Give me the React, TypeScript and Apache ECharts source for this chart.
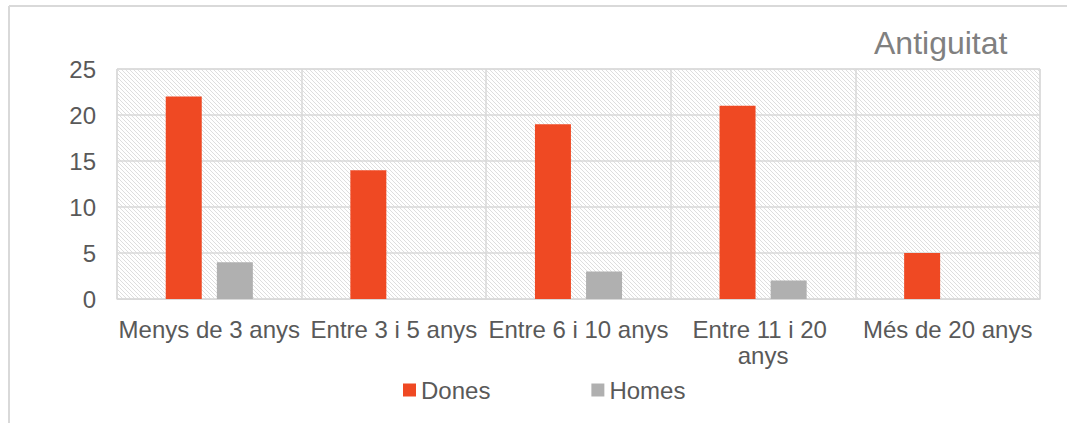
import React, { useEffect, useRef } from "react";
import * as echarts from "echarts";

const categories = ["Menys de 3 anys", "Entre 3 i 5 anys", "Entre 6 i 10 anys", "Entre 11 i 20 anys", "Més de 20 anys"];
const dones = [22, 14, 19, 21, 5];
const homes = [4, 0, 3, 2, 0];
const yTicks = { min: 0, max: 25, interval: 5 };
const titleText = "Antiguitat";

function makeHatch(): HTMLCanvasElement {
  const c = document.createElement("canvas");
  c.width = 8;
  c.height = 8;
  const ctx = c.getContext("2d")!;
  ctx.fillStyle = "#ffffff";
  ctx.fillRect(0, 0, 8, 8);
  ctx.fillStyle = "#dedede";
  for (let y = 0; y < 8; y++) {
    ctx.fillRect(y % 8, y, 1, 1);
    ctx.fillRect((y + 4) % 8, y, 1, 1);
  }
  return c;
}

export default function App() {
  const ref = useRef<HTMLDivElement>(null);
  useEffect(() => {
    if (!ref.current) return;
    const chart = echarts.init(ref.current, undefined, { renderer: "svg" });
    const font = "'Liberation Sans', Arial, sans-serif";
    const textColor = "#595959";
    chart.setOption({
      animation: false,
      title: {
        text: titleText,
        left: 874,
        top: 27,
        padding: 0,
        textStyle: { fontFamily: font, fontSize: 32, fontWeight: "normal", color: "#808080" },
      },
      legend: {
        left: 403,
        top: 378,
        padding: 0,
        itemWidth: 13,
        itemHeight: 13,
        itemGap: 101,
        icon: "rect",
        textStyle: { fontFamily: font, fontSize: 24, color: textColor, padding: [0, 0, 0, 0] },
        data: ["Dones", "Homes"],
      },
      grid: {
        left: 117,
        top: 69,
        right: 27,
        bottom: 124,
        show: true,
        borderColor: "#d9d9d9",
        borderWidth: 1,
        backgroundColor: { image: makeHatch(), repeat: "repeat" },
      },
      graphic: [
        { type: "line", shape: { x1: 9, y1: 6, x2: 1067, y2: 6 }, style: { stroke: "#d9d9d9", lineWidth: 2 } },
        { type: "line", shape: { x1: 9, y1: 6, x2: 9, y2: 423 }, style: { stroke: "#d9d9d9", lineWidth: 2 } },
      ],
      xAxis: {
        type: "category",
        data: categories,
        axisLine: { show: true, lineStyle: { color: "#d9d9d9", width: 1 } },
        axisTick: { show: false },
        splitLine: { show: true, interval: 0, lineStyle: { color: "#d9d9d9", width: 1.5 } },
        axisLabel: {
          interval: 0,
          margin: 17,
          fontFamily: font,
          fontSize: 24,
          color: textColor,
          width: 186,
          overflow: "break",
          lineHeight: 26,
        },
      },
      yAxis: {
        type: "value",
        min: yTicks.min,
        max: yTicks.max,
        interval: yTicks.interval,
        axisLine: { show: false },
        axisTick: { show: false },
        splitLine: { show: true, lineStyle: { color: "#d9d9d9", width: 1.5 } },
        axisLabel: { margin: 21, fontFamily: font, fontSize: 24, color: textColor },
      },
      series: [
        {
          name: "Dones",
          type: "bar",
          data: dones,
          barWidth: 36,
          barGap: "42%",
          itemStyle: { color: "#EF4923" },
        },
        {
          name: "Homes",
          type: "bar",
          data: homes,
          barWidth: 36,
          itemStyle: { color: "#B0B0B0" },
        },
      ],
    });
    return () => chart.dispose();
  }, []);
  return (
    <div
      ref={ref}
      style={{ position: "fixed", left: 0, top: 0, width: 1067, height: 423, background: "#ffffff" }}
    />
  );
}
